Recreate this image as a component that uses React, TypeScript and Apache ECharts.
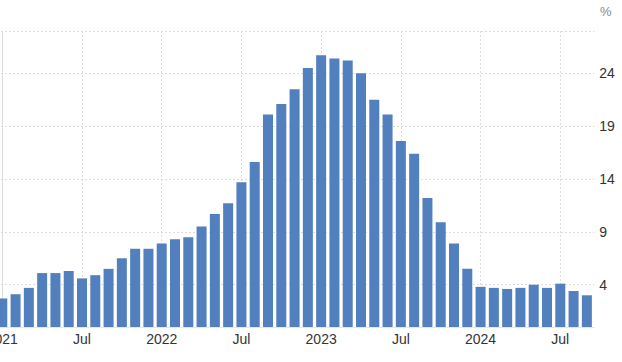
import React, { useEffect, useRef } from "react";
import * as echarts from "echarts";

const months: string[] = [
  "2021-01", "2021-02", "2021-03", "2021-04", "2021-05", "2021-06",
  "2021-07", "2021-08", "2021-09", "2021-10", "2021-11", "2021-12",
  "2022-01", "2022-02", "2022-03", "2022-04", "2022-05", "2022-06",
  "2022-07", "2022-08", "2022-09", "2022-10", "2022-11", "2022-12",
  "2023-01", "2023-02", "2023-03", "2023-04", "2023-05", "2023-06",
  "2023-07", "2023-08", "2023-09", "2023-10", "2023-11", "2023-12",
  "2024-01", "2024-02", "2024-03", "2024-04", "2024-05", "2024-06",
  "2024-07", "2024-08", "2024-09",
];

const inflation: number[] = [
  2.7, 3.1, 3.7, 5.1, 5.1, 5.3, 4.6, 4.9, 5.5, 6.5, 7.4, 7.4,
  7.9, 8.3, 8.5, 9.5, 10.7, 11.7, 13.7, 15.6, 20.1, 21.1, 22.5, 24.5,
  25.7, 25.4, 25.2, 24.0, 21.5, 20.1, 17.6, 16.4, 12.2, 9.9, 7.9, 5.5,
  3.8, 3.7, 3.6, 3.7, 4.0, 3.7, 4.1, 3.4, 3.0,
];

const yTicks: number[] = [4, 9, 14, 19, 24];
const yLines: number[] = [4, 9, 14, 19, 24, 28];
// month index (0 = Jan 2021) of each x tick label
const xTickIdx: number[] = [0, 6, 12, 18, 24, 30, 36, 42];

const FONT = "'Liberation Sans', Arial, Helvetica, sans-serif";

export default function App() {
  const ref = useRef<HTMLDivElement>(null);

  useEffect(() => {
    if (!ref.current) return;
    const chart = echarts.init(ref.current, undefined, { renderer: "svg" });
    chart.setOption({
      animation: false,
      textStyle: { fontFamily: FONT },
      grid: { left: 29, right: 27.7, top: 31, bottom: 35, containLabel: false },
      graphic: [
        {
          type: "text",
          left: 640,
          top: 5,
          style: { text: "%", fontSize: 13, fill: "#888", fontFamily: FONT },
        },
      ],
      xAxis: {
        type: "value",
        min: -1,
        max: 44.56,
        axisLine: { show: true, onZero: false, lineStyle: { color: "#e6e6e6", width: 1 } },
        axisTick: { show: false, customValues: xTickIdx },
        axisLabel: {
          customValues: xTickIdx,
          fontSize: 14,
          color: "#333",
          margin: 5,
          fontFamily: FONT,
          formatter: (v: number) => {
            const m = months[Math.round(v)];
            if (!m) return "";
            return m.endsWith("-01") ? m.slice(0, 4) : "Jul";
          },
        },
        splitLine: { show: true, lineStyle: { color: "#dcdcdc", type: [2, 2], width: 1 } },
      },
      yAxis: {
        type: "value",
        position: "right",
        min: 0,
        max: 28,
        axisLine: { show: true, lineStyle: { color: "#dcdcdc", width: 1 } },
        axisTick: { show: false, customValues: yLines },
        axisLabel: {
          customValues: yTicks,
          fontSize: 14,
          color: "#333",
          margin: 5,
          fontFamily: FONT,
        },
        splitLine: { show: true, lineStyle: { color: "#dcdcdc", type: [2, 2], width: 1 } },
      },
      series: [
        {
          type: "bar",
          barWidth: 10,
          itemStyle: { color: "#527fbd" },
          data: months.map((m, i) => [i, inflation[i]]),
        },
      ],
    });
    return () => chart.dispose();
  }, []);

  return (
    <div
      ref={ref}
      style={{ position: "absolute", left: -40, top: 0, width: 662, height: 362 }}
    />
  );
}
